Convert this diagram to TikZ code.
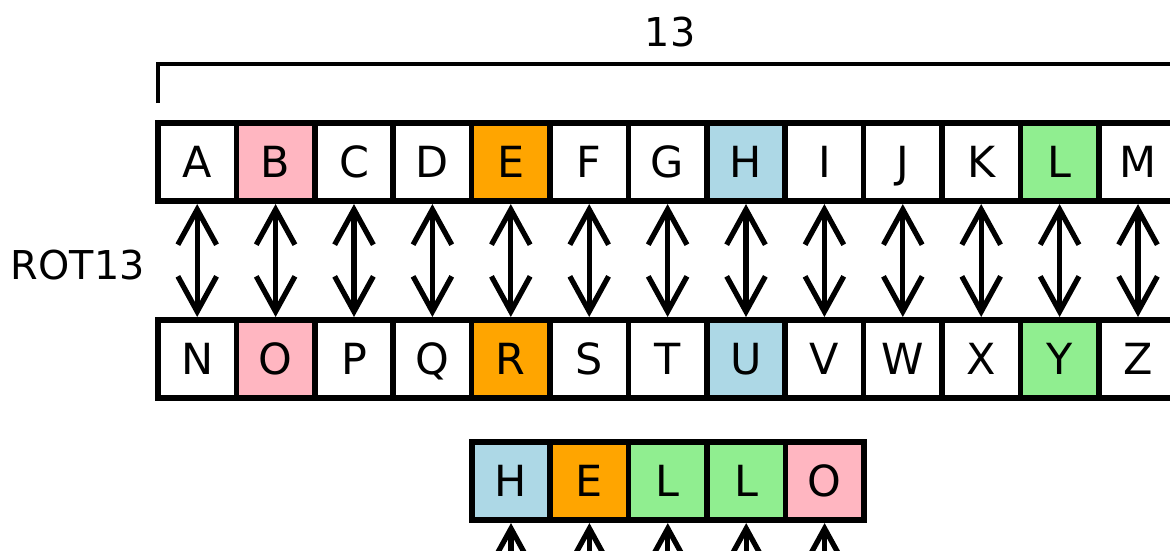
\documentclass[tikz,border=0pt]{standalone}
\usepackage{fontspec}
\setmainfont{DejaVu Sans}
\usetikzlibrary{arrows.meta}
\definecolor{rosa}{HTML}{FFB6C1}
\definecolor{naranja}{HTML}{FFA500}
\definecolor{celeste}{HTML}{ADD8E6}
\definecolor{verde}{HTML}{90EE90}

\begin{document}
\begin{tikzpicture}[x=0.01cm,y=-0.01cm,
  cell/.style={draw,line width=1.6pt,minimum size=0.784cm,inner sep=0pt,text height=8.9pt,text depth=0pt,font=\fontsize{12.2}{15}\selectfont},
  label/.style={font=\fontsize{11.3}{14}\selectfont},
  >={Straight Barb[length=10pt,width=11pt,line width=1.5pt]}]
\useasboundingbox (0,0) rectangle (1170,550);
% alphabet halves
\foreach \a/\b/\c [count=\i] in {A/N/white,B/O/rosa,C/P/white,D/Q/white,E/R/naranja,F/S/white,G/T/white,H/U/celeste,I/V/white,J/W/white,K/X/white,L/Y/verde,M/Z/white}{
\node[cell,fill=\c] (t\i) at (158+39.2+78.4*\i-78.4,162) {\a};
\node[cell,fill=\c] (b\i) at (158+39.2+78.4*\i-78.4,359) {\b};
\draw[<->,line width=1.5pt] (t\i.south) -- (b\i.north);
}
% bracket
\coordinate (k1) at (158,103);
\coordinate (k2) at (158,64);
\coordinate (k3) at (1177,64);
\coordinate (k4) at (1177,103);
\draw[line width=0.9pt] (k1) -- (k2) -- (k3) -- (k4);
\node[label] (n) at (670,32) {13};
\node[label,anchor=east] (rot) at (157,265) {ROT13};
% word
\foreach \a/\c [count=\i] in {H/celeste,E/naranja,L/verde,L/verde,O/rosa}{
\node[cell,fill=\c] (h\i) at (511+78.4*\i-78.4,481) {\a};
\coordinate (e\i) at (511+78.4*\i-78.4,600);
\draw[<-,line width=1.5pt] (h\i.south) -- (e\i);
}
\end{tikzpicture}
\end{document}
